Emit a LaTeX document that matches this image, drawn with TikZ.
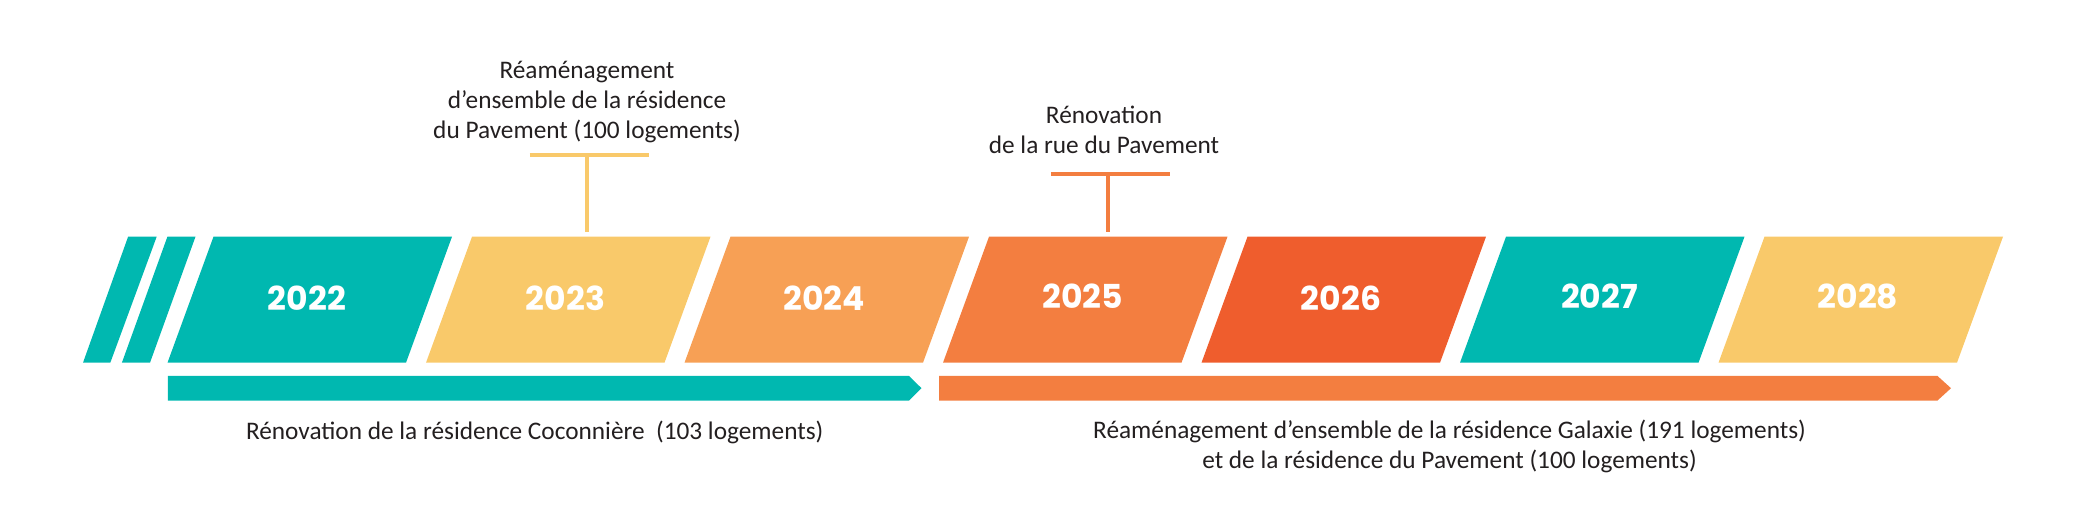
\documentclass[tikz,border=0pt]{standalone}
\usepackage{fontspec}
\setmainfont{Carlito}
\newfontfamily\yearfont{Poppins}
\definecolor{cteal}{RGB}{0,184,176}
\definecolor{cyel}{RGB}{249,201,106}
\definecolor{clor}{RGB}{247,160,85}
\definecolor{cor}{RGB}{243,126,64}
\definecolor{cred}{RGB}{239,93,45}
\definecolor{ctxt}{RGB}{35,31,32}
\begin{document}
\begin{tikzpicture}[x=0.5pt,y=-0.5pt,
  yearlbl/.style={font=\yearfont\bfseries\fontsize{16.5}{16.5}\selectfont, text=white, inner sep=0pt},
  txt/.style={font=\fontsize{12.65}{15}\selectfont, align=center, text=ctxt, inner sep=0pt},
  tbar/.style={line width=1.75pt}]
\useasboundingbox (0,0) rectangle (2073,529);
\newcommand\ybox[4]{%
  \fill[#2] (#1,362.7) -- ++(238.5,0) -- ++(46,-126) -- ++(-238.5,0) -- cycle;
  \node[yearlbl] (#4) at (#1+139.5,#3) {#4};}
% lead-in stripes
\fill[cteal] (83,362.7) -- (110.3,362.7) -- (156.7,236.7) -- (128.1,236.7) -- cycle;
\fill[cteal] (121.9,362.7) -- (150,362.7) -- (195.5,236.7) -- (167.4,236.7) -- cycle;
% year boxes
\ybox{167.5}{cteal}{298.3}{2022}
\ybox{426}{cyel}{298.3}{2023}
\ybox{684.5}{clor}{298.3}{2024}
\ybox{943}{cor}{296.3}{2025}
\ybox{1201.5}{cred}{298.3}{2026}
\ybox{1460}{cteal}{296.3}{2027}
\ybox{1718.5}{cyel}{296.3}{2028}
% bars
\fill[cteal] (167.9,376) -- (909,376) -- (921.5,388.2) -- (909,400.5) -- (167.9,400.5) -- cycle;
\fill[cor] (939,376) -- (1937.5,376) -- (1951,388.2) -- (1937.5,400.5) -- (939,400.5) -- cycle;
% top annotations (base anchor = baseline of the last line)
\node[txt, anchor=base] (a1) at (587,138.3) {Réaménagement\\d’ensemble de la résidence\\du Pavement (100 logements)};
\node[txt, anchor=base] (a2) at (1104,154) {Rénovation\\de la rue du Pavement};
\coordinate (t1l) at (529.7,155); \coordinate (t1r) at (649.1,155);
\coordinate (t1m) at (587,155); \coordinate (t1b) at (587,232.3);
\draw[cyel, tbar] (t1l) -- (t1r);
\draw[cyel, tbar] (t1m) -- (t1b);
\coordinate (t2l) at (1050.9,174); \coordinate (t2r) at (1169.7,174);
\coordinate (t2m) at (1108,174); \coordinate (t2b) at (1108,232.3);
\draw[cor, tbar] (t2l) -- (t2r);
\draw[cor, tbar] (t2m) -- (t2b);
% bottom texts
\node[txt, anchor=base] (b1) at (534.7,439.3) {Rénovation de la résidence Coconnière\ \ (103 logements)};
\node[txt, anchor=base] (b2) at (1449.5,468.3) {Réaménagement d’ensemble de la résidence Galaxie (191 logements)\\et de la résidence du Pavement (100 logements)};
\end{tikzpicture}
\end{document}
